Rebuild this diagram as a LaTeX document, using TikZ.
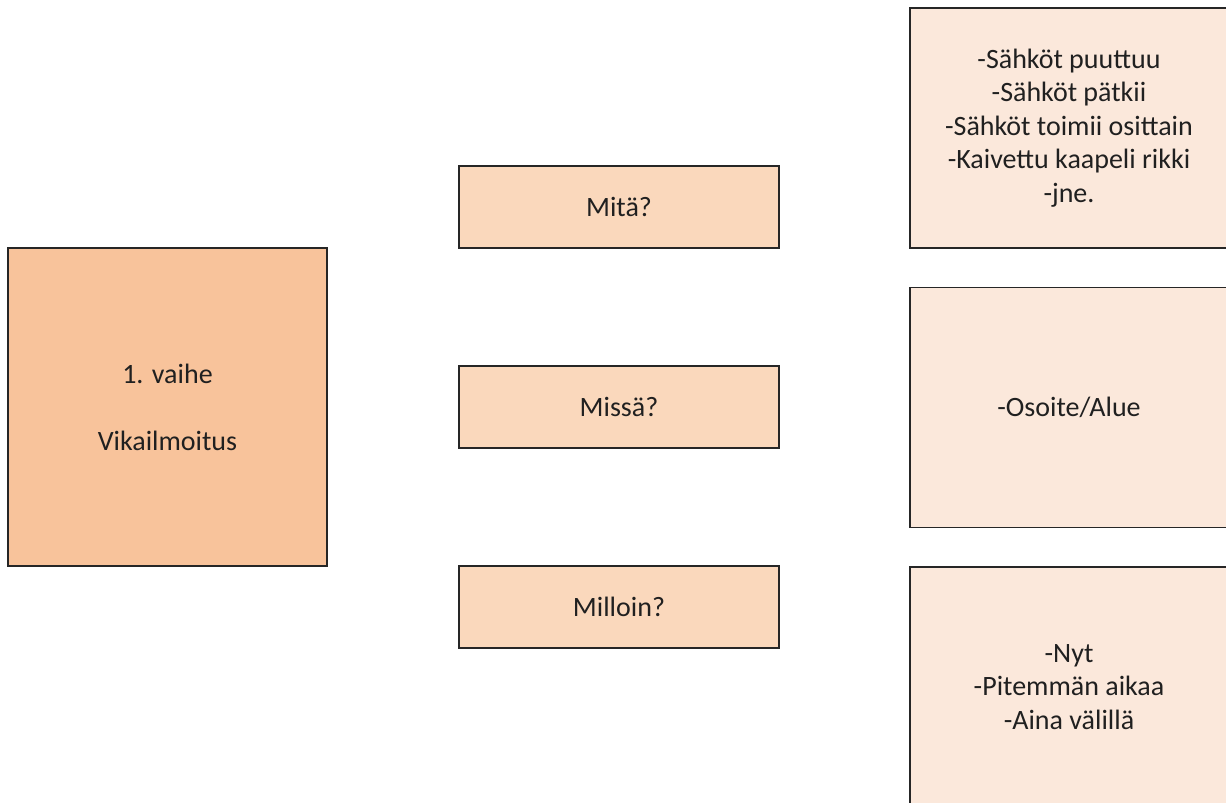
\documentclass[tikz,border=0pt]{standalone}
\usepackage{fontspec}
\setmainfont{Carlito}
\definecolor{phasefill}{HTML}{F8C39B}
\definecolor{askfill}{HTML}{FAD8BC}
\definecolor{answerfill}{HTML}{FBE8DB}
\definecolor{boxline}{HTML}{262626}
\definecolor{textc}{HTML}{202020}
\begin{document}
\begin{tikzpicture}[x=1pt,y=-1pt,
  box/.style={draw=boxline, line width=1.6pt, align=center, inner sep=0pt,
    text=textc, font=\fontsize{28}{33.5}\selectfont},
  phasebox/.style={box, fill=phasefill, minimum width=319pt, minimum height=318pt},
  askbox/.style={box, fill=askfill, minimum width=320pt, minimum height=82pt},
  answerbox/.style={box, fill=answerfill, minimum width=318pt, minimum height=240pt}]
\useasboundingbox (0,0) rectangle (1226,803);
% stage box
\node[phasebox] (phase) at (167.5,407) {1. vaihe\\[33.5pt]Vikailmoitus};
% questions
\node[askbox] (what)  at (619,207) {Mitä?};
\node[askbox] (where) at (619,407) {Missä?};
\node[askbox] (when)  at (619,607) {Milloin?};
% answers
\node[answerbox] (whatA)  at (1069,128) {-Sähköt puuttuu\\-Sähköt pätkii\\-Sähköt toimii osittain\\-Kaivettu kaapeli rikki\\-jne.};
\node[answerbox] (whereA) at (1069,407.5) {-Osoite/Alue};
\node[answerbox] (whenA)  at (1069,687) {-Nyt\\-Pitemmän aikaa\\-Aina välillä};
\end{tikzpicture}
\end{document}
